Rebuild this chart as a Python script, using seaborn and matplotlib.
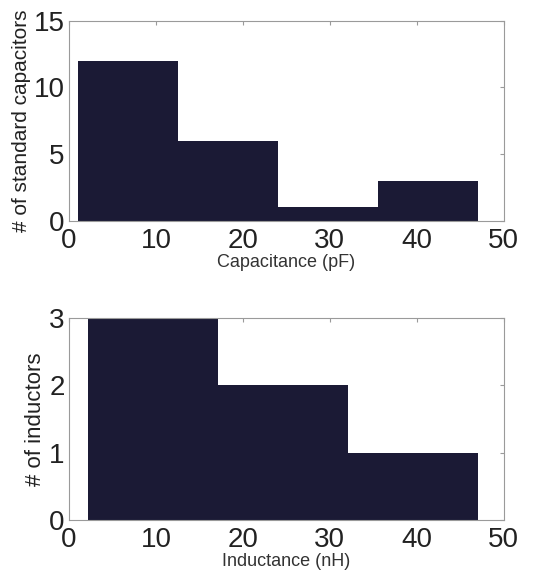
import matplotlib
matplotlib.use("Agg")
import matplotlib.pyplot as plt
import numpy as np
import seaborn as sns

# Capacitor histogram (pF)
cap_edges = [1.0, 12.5, 24.0, 35.5, 47.0]
cap_counts = [12, 6, 1, 3]

# Inductor histogram (nH)
ind_edges = [2.2, 17.13, 32.07, 47.0]
ind_counts = [3, 2, 1]

bar_color = "#1b1a35"
frame_color = "#9a9a9a"

sns.set_theme(style="white")
plt.rcParams["font.family"] = ["Liberation Sans", "DejaVu Sans"]

fig = plt.figure(figsize=(5.56, 5.78), dpi=100)
ax1 = fig.add_axes([0.124, 0.618, 0.782, 0.346])
ax2 = fig.add_axes([0.124, 0.100, 0.782, 0.350])


def draw_hist(ax, edges, counts, ymax, yticks, xlabel, ylabel, ysize):
    centers = [(a + b) / 2 for a, b in zip(edges[:-1], edges[1:])]
    sns.histplot(x=centers, weights=counts, bins=edges, ax=ax,
                 color=bar_color, alpha=1, edgecolor=bar_color, linewidth=0)
    ax.set_xlim(0, 50)
    ax.set_ylim(0, ymax)
    ax.set_xticks([0, 10, 20, 30, 40, 50])
    ax.set_yticks(yticks)
    ax.tick_params(direction="in", length=3, width=0.8, color=frame_color,
                   top=True, right=True, labelsize=20, pad=3)
    ax.tick_params(axis="x", pad=5)
    for s in ax.spines.values():
        s.set_color(frame_color)
        s.set_linewidth(0.8)
    ax.set_xlabel(xlabel, fontsize=13, color="#333333", labelpad=0)
    ax.set_ylabel(ylabel, fontsize=ysize, color="#222222", labelpad=2)
    for lbl in ax.get_xticklabels() + ax.get_yticklabels():
        lbl.set_color("#222222")


draw_hist(ax1, cap_edges, cap_counts, 15, [0, 5, 10, 15],
          "Capacitance (pF)", "# of standard capacitors", 15)
draw_hist(ax2, ind_edges, ind_counts, 3, [0, 1, 2, 3],
          "Inductance (nH)", "# of inductors", 16)

fig.savefig("out.png", dpi=100)
